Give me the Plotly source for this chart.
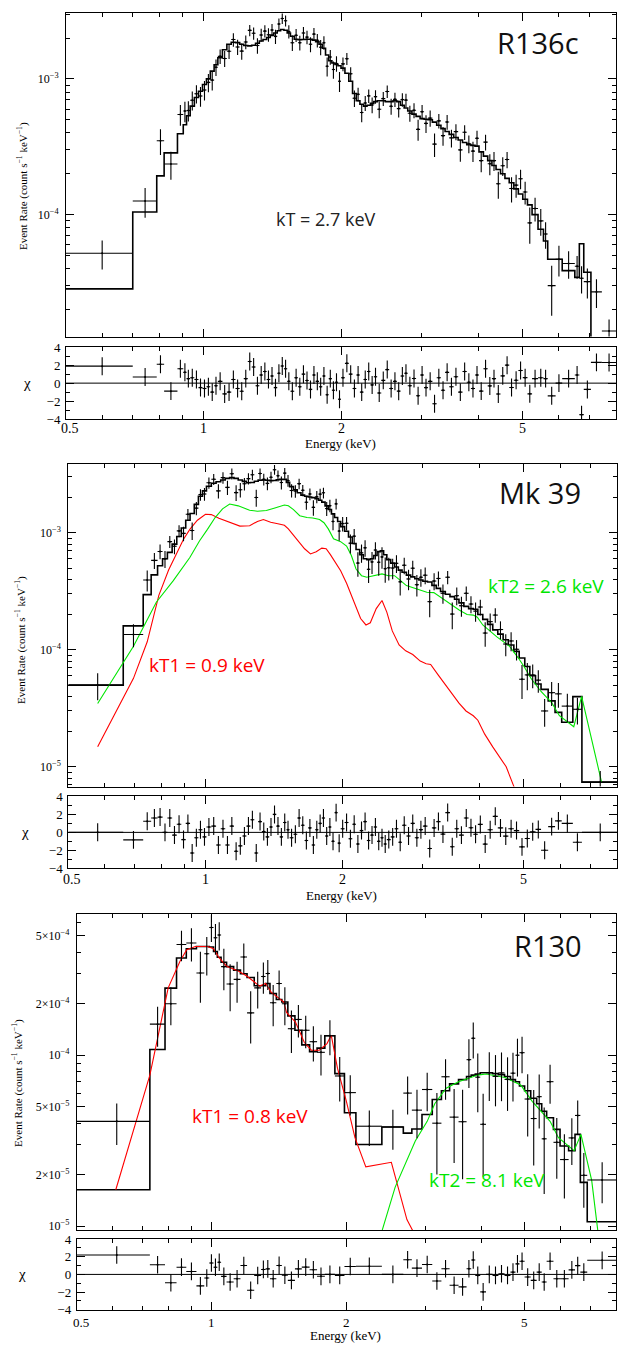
import math
import plotly.graph_objects as go

# Rates are listed in units of 1e-4 counts s^-1 keV^-1
UNIT = 1e-4

# ---------------- R136c ----------------
r136_edges = [0.50, 0.70, 0.79, 0.82, 0.877, 0.903, 0.918, 0.935, 0.955, 0.975,
              0.995, 1.015, 1.035, 1.055, 1.075, 1.10, 1.125, 1.15, 1.175, 1.20,
              1.225, 1.25, 1.275, 1.30, 1.325, 1.35, 1.375, 1.40, 1.425, 1.45,
              1.475, 1.50, 1.525, 1.55, 1.58, 1.61, 1.64, 1.67, 1.70, 1.73,
              1.76, 1.79, 1.82, 1.85, 1.88, 1.91, 1.94, 1.97, 2.00, 2.04,
              2.08, 2.12, 2.16, 2.20, 2.24, 2.28, 2.32, 2.36, 2.40, 2.45,
              2.50, 2.55, 2.60, 2.65, 2.70, 2.75, 2.80, 2.86, 2.92, 2.98,
              3.04, 3.10, 3.17, 3.24, 3.31, 3.38, 3.45, 3.53, 3.61, 3.69,
              3.77, 3.85, 3.93, 4.01, 4.10, 4.19, 4.28, 4.37, 4.47, 4.57,
              4.67, 4.78, 4.89, 5.00, 5.12, 5.24, 5.40, 5.55, 5.67, 5.90,
              6.10, 6.50, 6.65, 6.80, 7.05, 7.45, 8.0]
r136_model = [0.284, 1.047, 1.93, 2.85, 3.94, 4.6, 5.35, 6.3, 7.3, 8.1,
              9.1, 10.0, 11.4, 12.7, 14.3, 16.4, 18.0, 18.6, 18.5, 18.0,
              17.6, 17.5, 17.7, 18.3, 19.0, 19.5, 20.2, 21.0, 21.8, 22.6,
              23.1, 22.8, 21.8, 20.6, 19.6, 19.4, 19.5, 19.6, 19.6, 19.3,
              18.8, 18.0, 16.8, 15.0, 13.6, 13.1, 12.8, 12.5, 12.0, 11.0,
              9.6, 7.8, 6.9, 6.5, 6.3, 6.4, 6.6, 6.8, 6.9, 6.9,
              6.8, 6.8, 6.9, 6.8, 6.4, 6.1, 5.8, 5.5, 5.3, 5.1,
              5.05, 5.0, 4.8, 4.55, 4.3, 4.1, 3.9, 3.7, 3.55, 3.4,
              3.28, 3.24, 3.2, 2.9, 2.7, 2.5, 2.3, 2.15, 2.0, 1.85,
              1.72, 1.55, 1.42, 1.3, 1.18, 1.0, 0.78, 0.64, 0.47, 0.47,
              0.387, 0.345, 0.61, 0.377, 0.12, 0.07]
r136_err = [0.125, 0.31, 0.75, 0.55, 0.95, 1.0, 1.0, 1.1, 1.2, 1.25,
            1.35, 1.45, 1.6, 1.7, 1.8, 1.9, 2.0, 2.2, 2.2, 2.2,
            2.2, 2.2, 2.2, 2.3, 2.3, 2.3, 2.4, 2.4, 2.5, 2.5,
            2.5, 2.5, 2.5, 2.4, 2.3, 2.3, 2.3, 2.3, 2.3, 2.3,
            2.2, 2.2, 2.1, 2.0, 1.8, 1.7, 1.7, 1.6, 1.5, 1.4,
            1.3, 1.0, 0.9, 0.85, 0.85, 0.85, 0.85, 0.85, 0.85, 0.85,
            0.85, 0.85, 0.85, 0.85, 0.8, 0.8, 0.75, 0.75, 0.75, 0.7,
            0.7, 0.7, 0.65, 0.6, 0.6, 0.6, 0.55, 0.55, 0.55, 0.5,
            0.5, 0.5, 0.5, 0.45, 0.45, 0.42, 0.4, 0.38, 0.36, 0.35,
            0.33, 0.32, 0.3, 0.28, 0.26, 0.22, 0.2, 0.16, 0.12, 0.12,
            0.1, 0.08, 0.077, 0.08, 0.065, 0.03]
r136_rate = [0.52, 1.26, 3.5, 2.36, 5.46, 5.8, 5.85, 6.96, 7.78, 7.48,
             8.29, 9.42, 9.8, 12.19, 14.66, 14.12, 16.0, 19.48, 17.18, 16.02,
             18.7, 22.78, 21.66, 17.61, 21.07, 22.49, 21.16, 22.92, 20.55, 25.35,
             27.85, 26.8, 22.3, 18.44, 20.98, 18.48, 21.8, 20.29, 17.99, 21.37,
             19.24, 17.12, 18.48, 12.4, 14.5, 11.74, 12.97, 9.62, 12.9, 14.08,
             10.9, 7.2, 7.71, 5.65, 6.64, 7.5, 6.43, 7.4, 5.97, 7.16,
             8.08, 6.29, 7.07, 6.04, 7.04, 6.98, 5.58, 5.88, 4.25, 5.73,
             4.7, 5.14, 3.31, 4.91, 3.82, 4.82, 3.68, 4.09, 3.0, 4.05,
             3.33, 2.94, 3.65, 2.5, 3.42, 2.37, 2.5, 1.69, 2.29, 2.55,
             1.56, 1.65, 1.84, 1.47, 0.87, 1.11, 0.9, 0.72, 0.30, 0.47,
             0.437, 0.417, 0.34, 0.321, 0.27, 0.139]

# ---------------- Mk 39 ----------------
mk39_edges = [0.50, 0.66, 0.73, 0.76, 0.785, 0.805, 0.825, 0.845, 0.865, 0.885,
              0.905, 0.925, 0.945, 0.965, 0.985, 1.005, 1.03, 1.055, 1.08, 1.105,
              1.13, 1.155, 1.18, 1.205, 1.23, 1.255, 1.28, 1.305, 1.33, 1.355,
              1.38, 1.405, 1.43, 1.455, 1.48, 1.505, 1.53, 1.56, 1.59, 1.62,
              1.65, 1.68, 1.71, 1.74, 1.77, 1.80, 1.83, 1.86, 1.89, 1.92,
              1.95, 1.98, 2.02, 2.06, 2.10, 2.14, 2.18, 2.22, 2.26, 2.30,
              2.34, 2.38, 2.42, 2.46, 2.50, 2.55, 2.60, 2.65, 2.70, 2.76,
              2.82, 2.88, 2.94, 3.00, 3.07, 3.14, 3.21, 3.28, 3.36, 3.44,
              3.52, 3.60, 3.69, 3.78, 3.87, 3.96, 4.06, 4.16, 4.27, 4.38,
              4.50, 4.62, 4.75, 4.88, 5.02, 5.15, 5.30, 5.45, 5.65, 5.85,
              6.05, 6.40, 6.70, 8.00]
mk39_model = [0.499, 1.60, 2.96, 4.37, 5.23, 6.0, 6.8, 8.0, 9.3, 11.0,
              12.8, 14.6, 17.5, 20.5, 22.8, 25.0, 26.5, 27.3, 28.3, 29.2,
              29.6, 29.2, 28.3, 27.5, 26.8, 26.9, 27.6, 28.2, 28.3, 28.1,
              27.9, 28.0, 28.4, 28.6, 28.6, 27.0, 24.8, 23.3, 22.0, 21.0,
              20.5, 20.2, 20.0, 19.6, 19.0, 18.3, 17.0, 15.8, 14.5, 13.5,
              12.5, 11.3, 10.3, 9.2, 8.1, 7.2, 6.5, 6.0, 5.9, 6.0,
              6.4, 6.9, 7.0, 6.5, 5.9, 5.5, 5.1, 4.8, 4.6, 4.35,
              4.2, 4.05, 3.95, 3.85, 3.8, 3.55, 3.35, 3.15, 2.98, 2.85,
              2.7, 2.52, 2.35, 2.25, 2.22, 2.0, 1.82, 1.65, 1.48, 1.36,
              1.22, 1.10, 0.97, 0.85, 0.72, 0.60, 0.51, 0.459, 0.366, 0.292,
              0.24, 0.398, 0.074]
mk39_err = [0.13, 0.3, 0.8, 0.9, 1.0, 1.0, 1.0, 1.1, 1.2, 1.4,
            1.6, 1.8, 2.1, 2.4, 2.7, 2.9, 3.1, 3.2, 3.3, 3.4,
            3.4, 3.4, 3.3, 3.2, 3.2, 3.2, 3.3, 3.3, 3.3, 3.3,
            3.3, 3.3, 3.3, 3.4, 3.4, 3.2, 3.0, 2.8, 2.7, 2.6,
            2.5, 2.5, 2.5, 2.4, 2.4, 2.3, 2.2, 2.1, 2.0, 1.9,
            1.8, 1.7, 1.6, 1.5, 1.4, 1.3, 1.2, 1.2, 1.15, 1.2,
            1.2, 1.3, 1.3, 1.2, 1.1, 1.0, 0.95, 0.9, 0.85, 0.8,
            0.78, 0.75, 0.72, 0.7, 0.68, 0.64, 0.6, 0.57, 0.54, 0.52,
            0.5, 0.46, 0.43, 0.41, 0.4, 0.36, 0.33, 0.3, 0.28, 0.26,
            0.24, 0.22, 0.2, 0.18, 0.16, 0.14, 0.12, 0.08, 0.1, 0.1,
            0.09, 0.08, 0.018]
mk39_rate = [0.50, 1.35, 3.95, 5.81, 6.93, 6.0, 8.4, 7.67, 10.38, 9.88,
             14.4, 10.46, 16.24, 21.22, 21.45, 26.74, 28.67, 22.82, 29.62, 24.44,
             31.98, 22.06, 23.35, 26.22, 29.04, 31.38, 20.01, 32.16, 28.63, 26.45,
             29.88, 34.6, 30.71, 26.9, 32.34, 27.96, 23.0, 22.74, 26.32, 23.08,
             18.25, 21.45, 16.5, 20.32, 21.4, 21.98, 16.12, 17.06, 12.5, 17.68,
             10.34, 11.98, 12.06, 8.15, 9.36, 5.51, 6.74, 7.44, 4.87, 5.64,
             7.12, 5.6, 6.22, 4.94, 5.02, 5.0, 5.48, 3.81, 5.28, 4.03,
             4.98, 3.6, 4.17, 4.34, 2.58, 3.87, 4.07, 3.04, 4.17, 2.02,
             2.9, 2.38, 3.04, 2.46, 2.14, 2.32, 1.39, 1.74, 1.98, 1.49,
             1.12, 1.19, 1.01, 0.56, 0.61, 0.61, 0.55, 0.30, 0.43, 0.42,
             0.33, 0.31, 0.074]
mk39_kt1_energy = [0.58, 0.695, 0.745, 0.79, 0.83, 0.865, 0.895, 0.924, 0.96, 1.0,
                   1.03, 1.07, 1.12, 1.19, 1.25, 1.30, 1.34, 1.39, 1.45, 1.49,
                   1.52, 1.56, 1.60, 1.65, 1.70, 1.75, 1.80, 1.84, 1.88, 1.93,
                   1.98, 2.04, 2.09, 2.14, 2.19, 2.25, 2.30, 2.37, 2.44, 2.50,
                   2.57, 2.66, 2.75, 2.85, 2.96, 3.05, 3.12, 3.24, 3.36, 3.48,
                   3.60, 3.73, 3.87, 3.96, 4.10, 4.27, 4.45, 4.57, 4.75, 4.90]
mk39_kt1 = [0.148, 0.57, 1.17, 2.92, 4.8, 6.78, 8.8, 10.7, 12.8, 14.4,
            14.3, 13.3, 12.4, 11.4, 11.5, 12.5, 13.0, 12.3, 11.9, 11.6,
            10.8, 9.6, 8.5, 7.3, 6.6, 6.9, 7.4, 7.3, 6.5, 5.6,
            4.74, 3.7, 2.92, 2.3, 1.85, 1.63, 1.7, 2.25, 2.64, 2.1,
            1.45, 1.10, 0.98, 0.91, 0.80, 0.76, 0.75, 0.61, 0.50, 0.415,
            0.35, 0.30, 0.273, 0.25, 0.19, 0.148, 0.115, 0.10, 0.068, 0.05]
mk39_kt2_energy = [0.58, 0.695, 0.78, 0.85, 0.924, 0.97, 1.01, 1.05, 1.09, 1.13,
                   1.18, 1.25, 1.30, 1.36, 1.42, 1.49, 1.52, 1.56, 1.61, 1.67,
                   1.72, 1.78, 1.82, 1.86, 1.91, 1.98, 2.04, 2.09, 2.14, 2.20,
                   2.26, 2.35, 2.44, 2.52, 2.60, 2.68, 2.76, 2.90, 3.06, 3.17,
                   3.28, 3.40, 3.61, 3.75, 3.87, 3.95, 4.06, 4.36, 4.65, 4.86,
                   5.0, 5.2, 5.45, 5.75, 5.98, 6.43, 6.69, 7.4]
mk39_kt2 = [0.347, 1.07, 2.55, 3.9, 6.15, 8.5, 10.7, 13.5, 16.0, 17.6,
            17.0, 15.6, 15.3, 15.5, 16.3, 17.3, 17.0, 15.8, 14.0, 13.5,
            13.4, 13.0, 12.2, 10.8, 8.9, 8.4, 7.7, 6.4, 4.9, 4.3,
            4.17, 4.3, 4.45, 4.3, 4.3, 3.9, 3.54, 3.32, 3.1, 3.08,
            2.8, 2.56, 2.18, 2.0, 1.98, 1.9, 1.63, 1.29, 1.07, 0.85,
            0.72, 0.557, 0.44, 0.354, 0.273, 0.22, 0.40, 0.074]

# ---------------- R130 ----------------
r130_edges = [0.50, 0.728, 0.787, 0.835, 0.878, 0.925, 0.963, 0.988, 1.01, 1.03,
              1.05, 1.08, 1.12, 1.16, 1.20, 1.245, 1.29, 1.32, 1.35, 1.395,
              1.435, 1.48, 1.535, 1.59, 1.655, 1.72, 1.79, 1.885, 1.98, 2.10,
              2.40, 2.68, 2.80, 2.95, 3.11, 3.26, 3.40, 3.56, 3.71, 3.80,
              3.88, 3.98, 4.10, 4.24, 4.37, 4.51, 4.65, 4.77, 4.87, 5.00,
              5.16, 5.32, 5.46, 5.60, 5.80, 6.00, 6.27, 6.48, 6.66, 6.90,
              8.0]
r130_model = [0.163, 1.08, 2.47, 3.71, 4.2, 4.33, 4.33, 4.3, 4.05, 3.75,
              3.5, 3.3, 3.15, 3.0, 2.85, 2.55, 2.55, 2.63, 2.3, 2.12,
              2.05, 1.7, 1.4, 1.15, 1.05, 1.1, 1.3, 0.78, 0.46, 0.30,
              0.38, 0.35, 0.37, 0.45, 0.55, 0.62, 0.68, 0.72, 0.75, 0.765,
              0.775, 0.79, 0.79, 0.78, 0.77, 0.75, 0.72, 0.70, 0.66, 0.62,
              0.56, 0.52, 0.47, 0.43, 0.368, 0.294, 0.276, 0.344, 0.18, 0.106]
r130_err = [0.112, 0.4, 0.5, 0.9, 1.0, 1.0, 1.0, 1.0, 1.0, 0.95,
            0.9, 0.8, 0.75, 0.75, 0.6, 0.6, 0.6, 0.6, 0.55, 0.5,
            0.5, 0.4, 0.35, 0.3, 0.28, 0.28, 0.3, 0.22, 0.16, 0.09,
            0.1, 0.15, 0.15, 0.16, 0.2, 0.2, 0.2, 0.22, 0.3, 0.3,
            0.28, 0.2, 0.25, 0.25, 0.25, 0.25, 0.25, 0.25, 0.25, 0.22,
            0.2, 0.2, 0.17, 0.18, 0.12, 0.1, 0.1, 0.1, 0.07, 0.05]
r130_rate = [0.41, 1.52, 2.0, 4.45, 4.54, 3.03, 3.93, 5.6, 4.87, 5.06,
             3.30, 2.61, 2.78, 3.76, 1.77, 2.48, 2.89, 3.01, 2.03, 2.63,
             2.0, 1.43, 1.62, 1.40, 1.20, 1.04, 1.30, 0.756, 0.604, 0.384,
             0.38, 0.60, 0.477, 0.63, 0.40, 0.748, 0.434, 0.408, 0.942, 1.257,
             0.744, 0.394, 0.79, 0.752, 0.788, 0.722, 0.785, 1.0, 1.035, 0.554,
             0.426, 0.572, 0.324, 0.70, 0.309, 0.245, 0.328, 0.444, 0.198, 0.186]
r130_kt1_energy = [0.611, 0.728, 0.80, 0.85, 0.88, 0.92, 0.98, 1.01, 1.04, 1.08,
                   1.15, 1.20, 1.28, 1.32, 1.36, 1.42, 1.45, 1.47, 1.54, 1.61,
                   1.67, 1.74, 1.81, 1.85, 1.91, 2.0, 2.09, 2.21, 2.52, 2.73,
                   2.87, 3.0]
r130_kt1 = [0.163, 0.765, 2.48, 3.55, 4.15, 4.33, 4.33, 4.2, 3.71, 3.32,
            3.1, 2.9, 2.54, 2.63, 2.33, 2.13, 2.05, 1.78, 1.56, 1.19,
            1.07, 1.07, 1.17, 1.31, 0.84, 0.537, 0.329, 0.222, 0.236, 0.109,
            0.085, 0.06]
r130_kt2_energy = [2.3, 2.40, 2.57, 2.85, 3.03, 3.15, 3.34, 3.56, 3.93, 4.10,
                   4.52, 4.90, 5.20, 5.70, 5.95, 6.45, 6.68, 7.06, 7.3]
r130_kt2 = [0.07, 0.093, 0.169, 0.315, 0.41, 0.52, 0.641, 0.70, 0.765, 0.776,
            0.74, 0.67, 0.537, 0.41, 0.329, 0.276, 0.344, 0.185, 0.09]

x_tick_values = [0.5, 1, 2, 5]
x_tick_labels = ["0.5", "1", "2", "5"]
x_minor_values = [0.6, 0.7, 0.8, 0.9, 3, 4, 6, 7]
chi_tick_values = [-4, -2, 0, 2, 4]
chi_tick_labels = ["\u22124", "\u22122", "0", "2", "4"]

# ---------------- layout helpers ----------------
W, H = 627, 1351
SERIF = "Liberation Serif"
SANS = "Open Sans"
RED = "#ff0000"
GREEN = "#00e600"


def fx(p):
    return p / W


def fy(p):
    return 1 - p / H


def sup(v):
    return "10<sup>\u2212%d</sup>" % v


def decade_minors(lo_exp, hi_exp, lo, hi):
    out = []
    for e in range(lo_exp, hi_exp + 1):
        for k in range(2, 10):
            v = k * 10.0 ** e
            if lo <= v <= hi:
                out.append(v)
    return out


panels = [
    dict(edges=r136_edges, rate=r136_rate, err=r136_err, model=r136_model,
         comps=[],
         xl=66, xr=616, mt=6, mb=333.3, rt=344, rb=416.7, xlab=426, elab=441, xfs=14,
         ycen=181, ytx=23, chix=27,
         yr=[-4.898, -2.5142],
         ymaj=[1e-4, 1e-3], ytxt=[sup(4), sup(3)],
         ymin=decade_minors(-5, -3, 1.3e-5, 3.05e-3)),
    dict(edges=mk39_edges, rate=mk39_rate, err=mk39_err, model=mk39_model,
         comps=[(mk39_kt1_energy, mk39_kt1, RED), (mk39_kt2_energy, mk39_kt2, GREEN)],
         xl=68.3, xr=617, mt=462.3, mb=788.3, rt=798.3, rb=871, xlab=882, elab=898, xfs=14,
         ycen=640, ytx=21, chix=25,
         yr=[-5.169, -2.4134],
         ymaj=[1e-5, 1e-4, 1e-3], ytxt=[sup(5), sup(4), sup(3)],
         ymin=decade_minors(-6, -3, 6.8e-6, 3.8e-3)),
    dict(edges=r130_edges, rate=r130_rate, err=r130_err, model=r130_model,
         comps=[(r130_kt1_energy, r130_kt1, RED), (r130_kt2_energy, r130_kt2, GREEN)],
         xl=76.8, xr=616, mt=917, mb=1236.7, rt=1246, rb=1317.3, xlab=1330, elab=1343, xfs=13,
         ycen=1088, ytx=18, chix=22,
         yr=[-5.0232, -3.172],
         ymaj=[1e-5, 2e-5, 5e-5, 1e-4, 2e-4, 5e-4],
         ytxt=[sup(5), "2\u00d7" + sup(5), "5\u00d7" + sup(5),
               sup(4), "2\u00d7" + sup(4), "5\u00d7" + sup(4)],
         ymin=[3e-5, 4e-5, 6e-5, 7e-5, 8e-5, 9e-5, 3e-4, 4e-4, 6e-4]),
]

fig = go.Figure()
layout_axes = {}
shapes = []
annotations = []

common_axis = dict(showline=True, linecolor="black", linewidth=1, mirror="allticks",
                   ticks="inside", ticklen=8, tickwidth=1, tickcolor="black",
                   showgrid=False, zeroline=False)


def label(text, x, y, size, color="black", family=SANS, angle=0):
    annotations.append(dict(text=text, x=fx(x), y=fy(y), xref="paper", yref="paper",
                            showarrow=False, xanchor="center", yanchor="middle",
                            textangle=angle,
                            font=dict(family=family, size=size, color=color)))


ytitle = "Event Rate (count s<sup>\u22121</sup> keV<sup>\u22121</sup>)"

for i, p in enumerate(panels):
    nm = 2 * i + 1
    nr = 2 * i + 2
    xm = "x" if nm == 1 else "x%d" % nm
    ym = "y" if nm == 1 else "y%d" % nm
    xr_ = "x%d" % nr
    yr_ = "y%d" % nr

    edges = p["edges"]
    n = min(len(edges) - 1, len(p["rate"]), len(p["err"]), len(p["model"]))
    lo = edges[:n]
    hi = edges[1:n + 1]
    mid = [(a + b) / 2 for a, b in zip(lo, hi)]
    half = [(b - a) / 2 for a, b in zip(lo, hi)]
    rate = [v * UNIT for v in p["rate"][:n]]
    err = [v * UNIT for v in p["err"][:n]]
    model = [v * UNIT for v in p["model"][:n]]
    chi = [(r - m) / e for r, m, e in zip(rate, model, err)]

    # model step histogram
    fig.add_trace(go.Scatter(x=edges[:n + 1], y=model + [model[-1]], mode="lines",
                             line=dict(shape="hv", color="black", width=1.6),
                             xaxis=xm, yaxis=ym, hoverinfo="skip"))
    # model components
    for ce, cv, col in p["comps"]:
        fig.add_trace(go.Scatter(x=ce, y=[v * UNIT for v in cv], mode="lines",
                                 line=dict(color=col, width=1.1),
                                 xaxis=xm, yaxis=ym, hoverinfo="skip"))
    # data with error bars
    fig.add_trace(go.Scatter(x=mid, y=rate, mode="markers",
                             marker=dict(size=2, color="black"),
                             error_x=dict(type="data", array=half, width=0,
                                          thickness=1.1, color="black"),
                             error_y=dict(type="data", array=err, width=0,
                                          thickness=1.1, color="black"),
                             xaxis=xm, yaxis=ym))
    # residuals (chi)
    fig.add_trace(go.Scatter(x=mid, y=chi, mode="markers",
                             marker=dict(size=2, color="black"),
                             error_x=dict(type="data", array=half, width=0,
                                          thickness=1.1, color="black"),
                             error_y=dict(type="constant", value=1, width=0,
                                          thickness=1.1, color="black"),
                             xaxis=xr_, yaxis=yr_))

    xdom = [fx(p["xl"]), fx(p["xr"])]
    xrange = [math.log10(0.5), math.log10(8)]

    key_xm = "xaxis" if nm == 1 else "xaxis%d" % nm
    key_ym = "yaxis" if nm == 1 else "yaxis%d" % nm
    minor_x = dict(tickvals=x_minor_values, ticks="inside", ticklen=4, tickcolor="black")
    layout_axes[key_xm] = dict(common_axis, type="log", domain=xdom, range=xrange,
                               anchor=ym, tickvals=x_tick_values, showticklabels=False,
                               minor=minor_x)
    layout_axes[key_ym] = dict(common_axis, type="log", domain=[fy(p["mb"]), fy(p["mt"])],
                               range=p["yr"], anchor=xm,
                               tickvals=p["ymaj"], ticktext=p["ytxt"],
                               tickfont=dict(family=SERIF, size=12, color="black"),
                               ticklabelstandoff=4,
                               minor=dict(tickvals=p["ymin"], ticks="inside",
                                          ticklen=4, tickcolor="black"))
    layout_axes["xaxis%d" % nr] = dict(common_axis, type="log", domain=xdom, range=xrange,
                                       anchor=yr_, tickvals=x_tick_values,
                                       showticklabels=False, minor=minor_x)
    layout_axes["yaxis%d" % nr] = dict(common_axis, domain=[fy(p["rb"]), fy(p["rt"])],
                                       range=[-4, 4], anchor=xr_,
                                       tickvals=chi_tick_values, ticktext=chi_tick_labels,
                                       tickfont=dict(family=SERIF, size=13, color="black"),
                                       ticklabelstandoff=2,
                                       minor=dict(tickvals=[-3, -1, 1, 3], ticks="inside",
                                                  ticklen=4, tickcolor="black"))
    # zero line of the residual panel
    shapes.append(dict(type="line", xref="%s domain" % xr_, yref=yr_,
                       x0=0, x1=1, y0=0, y1=0, line=dict(color="black", width=1)))
    # energy tick labels placed on the residual x axis
    for tv, tt in zip(x_tick_values, x_tick_labels):
        annotations.append(dict(text=tt, x=math.log10(tv), y=fy(p["xlab"]),
                                xref=xr_, yref="paper", showarrow=False,
                                xanchor="center", yanchor="middle",
                                xshift=4 if tv == 0.5 else 0,
                                font=dict(family=SERIF, size=p["xfs"], color="black")))
    label("Energy (keV)", (p["xl"] + p["xr"]) / 2 - 1, p["elab"], 13, family=SERIF)
    label(ytitle, p["ytx"], p["ycen"], 11, family=SERIF, angle=-90)
    label("\u03c7", p["chix"], (p["rt"] + p["rb"]) / 2, 15, family=SERIF)

# panel labels
label("R136c", 538, 36, 29, "#111")
label("kT = 2.7 keV", 326, 214, 18, "#222")
label("Mk 39", 540, 491, 29, "#111")
label("kT1 = 0.9 keV", 207, 665, 19, RED)
label("kT2 = 2.6 keV", 546, 585, 19, GREEN)
label("R130", 548, 949, 29, "#111")
label("kT1 = 0.8 keV", 250, 1121, 19, RED)
label("kT2 = 8.1 keV", 487, 1186, 19, GREEN)

fig.update_layout(width=W, height=H, margin=dict(l=0, r=0, t=0, b=0),
                  paper_bgcolor="white", plot_bgcolor="white",
                  showlegend=False, annotations=annotations, shapes=shapes,
                  **layout_axes)

fig.write_html("out.html")
